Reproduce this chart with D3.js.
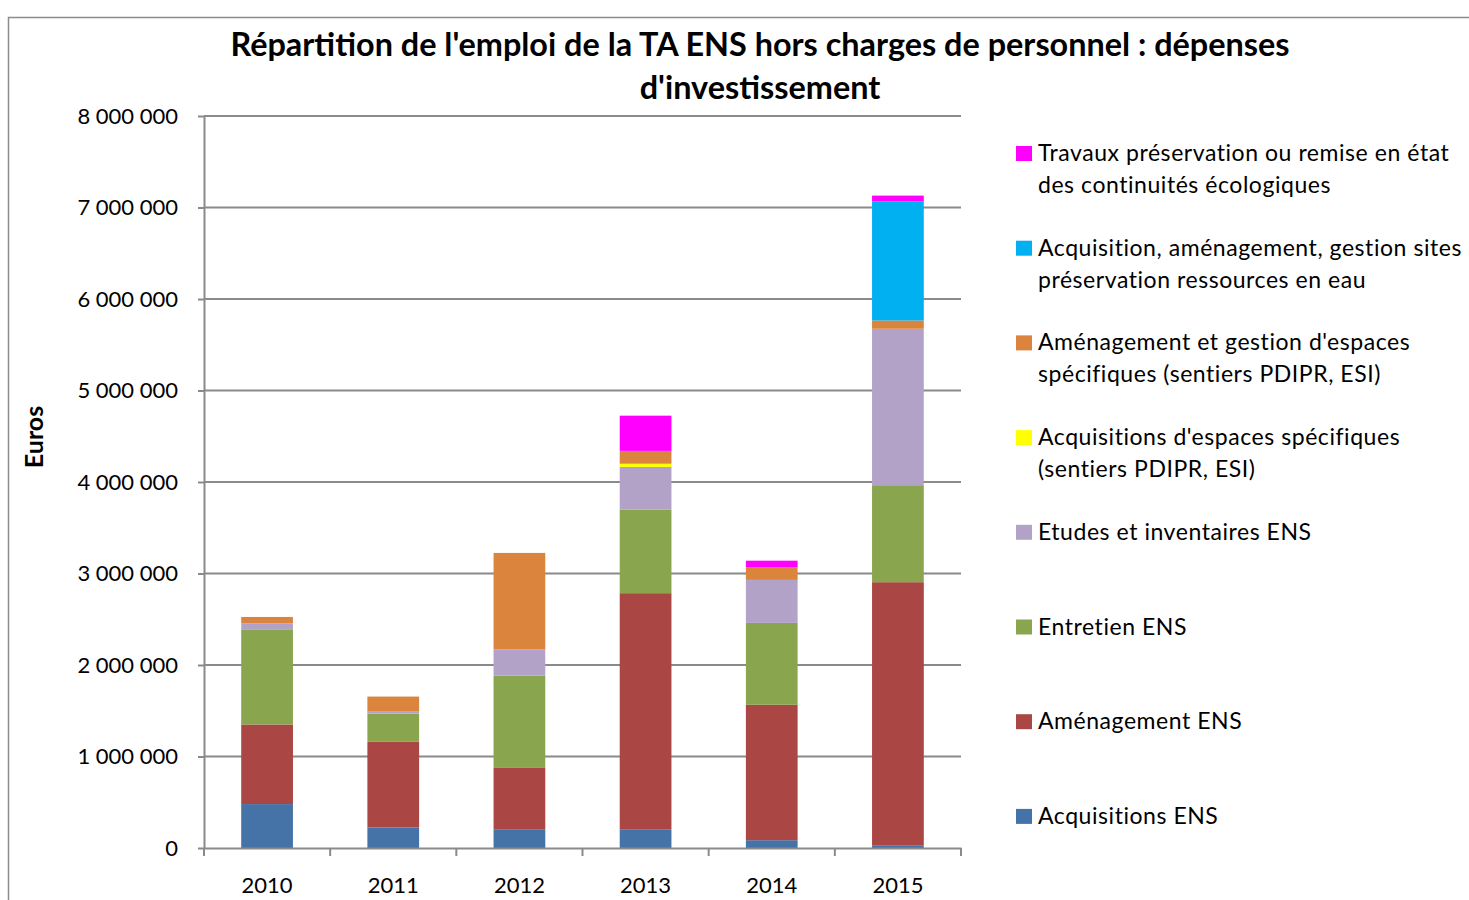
<!DOCTYPE html>
<html>
<head>
<meta charset="utf-8">
<script src="https://cdn.jsdelivr.net/npm/d3@7"></script>
<style>
  body { margin: 0; background: #fff; }
  svg { display: block; font-family: Lato, "Open Sans", sans-serif; }
</style>
</head>
<body>
<div id="chart"></div>
<script>
// Emploi de la TA ENS - dépenses d'investissement, barres empilées
const years = ["2010", "2011", "2012", "2013", "2014", "2015"];

const acquisitionsENS   = [480000, 225000, 205000, 205000, 85000, 25000];
const amenagementENS    = [870000, 935000, 670000, 2580000, 1480000, 2880000];
const entretienENS      = [1040000, 310000, 1010000, 915000, 895000, 1060000];
const etudesENS         = [65000, 20000, 285000, 465000, 470000, 1710000];
const acqEspacesSpec    = [0, 0, 0, 35000, 0, 0];
const amenEspacesSpec   = [70000, 165000, 1055000, 140000, 140000, 90000];
const sitesEau          = [0, 0, 0, 0, 0, 1300000];
const travauxContinuite = [0, 0, 0, 385000, 70000, 65000];

const yTicks = [0, 1000000, 2000000, 3000000, 4000000, 5000000, 6000000, 7000000, 8000000];

// séries dans l'ordre d'empilement (bas -> haut)
const series = [
    { key: "acq", label: ["Acquisitions ENS"], color: "#4572A7", values: acquisitionsENS },
    { key: "amen", label: ["Aménagement ENS"], color: "#AA4643", values: amenagementENS },
    { key: "entr", label: ["Entretien ENS"], color: "#89A54E", values: entretienENS },
    { key: "etud", label: ["Etudes et inventaires ENS"], color: "#B3A2C7", values: etudesENS },
    { key: "acqSpec", label: ["Acquisitions d'espaces spécifiques", "(sentiers PDIPR, ESI)"], color: "#FFFF00", values: acqEspacesSpec },
    { key: "amenSpec", label: ["Aménagement et gestion d'espaces", "spécifiques (sentiers PDIPR, ESI)"], color: "#DB843D", values: amenEspacesSpec },
    { key: "eau", label: ["Acquisition, aménagement, gestion sites", "préservation ressources en eau"], color: "#00B0F0", values: sitesEau },
    { key: "trav", label: ["Travaux préservation ou remise en état", "des continuités écologiques"], color: "#FF00FF", values: travauxContinuite }
];

const width = 1469;
const height = 900;
const margin = { top: 116, right: 508, bottom: 52, left: 204 };

const table = years.map((y, i) => {
    const row = { year: y };
    series.forEach(s => { row[s.key] = s.values[i]; });
    return row;
});

const stacked = d3.stack().keys(series.map(s => s.key))(table);

const x = d3.scaleBand()
    .domain(years)
    .range([margin.left, width - margin.right])
    .paddingInner(0.59)
    .paddingOuter(0.295);

const y = d3.scaleLinear()
    .domain([0, 8000000])
    .range([height - margin.bottom, margin.top]);

const svg = d3.select("#chart").append("svg")
    .attr("width", width)
    .attr("height", height);

// cadre du graphique
svg.append("rect")
    .attr("x", 8.5)
    .attr("y", 17.5)
    .attr("width", 1500)
    .attr("height", 1000)
    .attr("fill", "none")
    .attr("stroke", "#8c8c8c")
    .attr("stroke-width", 1.5);

// quadrillage
svg.append("g")
    .selectAll("line")
    .data(yTicks.slice(1))
    .join("line")
    .attr("x1", margin.left)
    .attr("x2", width - margin.right)
    .attr("y1", d => y(d))
    .attr("y2", d => y(d))
    .attr("stroke", "#8a8a8a")
    .attr("stroke-width", 2);

// barres
const colorOf = {};
series.forEach(s => { colorOf[s.key] = s.color; });

svg.append("g")
    .selectAll("g")
    .data(stacked)
    .join("g")
    .attr("fill", d => colorOf[d.key])
    .selectAll("rect")
    .data(d => d)
    .join("rect")
    .attr("x", d => x(d.data.year))
    .attr("y", d => y(d[1]))
    .attr("width", x.bandwidth())
    .attr("height", d => y(d[0]) - y(d[1]));

// axe Y
const fmt = d => d3.format(",")(d).replace(/,/g, " ");
const yAxis = svg.append("g")
    .attr("transform", `translate(${margin.left},0)`)
    .call(d3.axisLeft(y).tickValues(yTicks).tickFormat(fmt).tickSize(6).tickSizeOuter(0).tickPadding(20));
yAxis.attr("font-family", null).attr("font-size", null);
yAxis.select(".domain").attr("stroke", "#8a8a8a").attr("stroke-width", 2);
yAxis.selectAll(".tick line").attr("stroke", "#8a8a8a").attr("stroke-width", 2);
yAxis.selectAll("text")
    .attr("fill", "#000")
    .style("font-size", "22px");

// axe X
const xAxis = svg.append("g")
    .attr("transform", `translate(0,${height - margin.bottom})`)
    .call(d3.axisBottom(x).tickSize(0).tickPadding(29));
xAxis.attr("font-family", null).attr("font-size", null);
xAxis.select(".domain").attr("stroke", "#8a8a8a").attr("stroke-width", 2);
xAxis.selectAll("text")
    .attr("fill", "#000")
    .style("font-size", "22px");

// graduations entre les catégories
const edges = [margin.left].concat(years.map(yr => x(yr) + x.bandwidth() + x.step() * x.paddingInner() / 2));
edges[edges.length - 1] = width - margin.right;
svg.append("g")
    .selectAll("line")
    .data(edges)
    .join("line")
    .attr("x1", d => d)
    .attr("x2", d => d)
    .attr("y1", height - margin.bottom)
    .attr("y2", height - margin.bottom + 8)
    .attr("stroke", "#8a8a8a")
    .attr("stroke-width", 2);

// titre
const title = svg.append("text")
    .attr("text-anchor", "middle")
    .style("font-size", "32.4px")
    .style("font-weight", "bold");
title.append("tspan").attr("x", 760).attr("y", 56)
    .text("Répartition de l'emploi de la TA ENS hors charges de personnel : dépenses");
title.append("tspan").attr("x", 760).attr("y", 99)
    .text("d'investissement");

// titre axe Y
svg.append("text")
    .attr("transform", "translate(43,437) rotate(-90)")
    .attr("text-anchor", "middle")
    .style("font-size", "25px")
    .style("font-weight", "bold")
    .text("Euros");

// légende (ordre inverse)
const legendItems = series.slice().reverse();
const legend = svg.append("g")
    .selectAll("g")
    .data(legendItems)
    .join("g")
    .attr("transform", (d, i) => `translate(1016,${146 + i * 94.7})`);

legend.append("rect")
    .attr("width", 16)
    .attr("height", 15)
    .attr("fill", d => d.color);

legend.append("text")
    .style("font-size", "23px")
    .style("letter-spacing", "0.55px")
    .attr("fill", "#000")
    .selectAll("tspan")
    .data(d => d.label)
    .join("tspan")
    .attr("x", 22)
    .attr("y", (d, i) => 15 + i * 32)
    .text(d => d);
</script>
</body>
</html>
